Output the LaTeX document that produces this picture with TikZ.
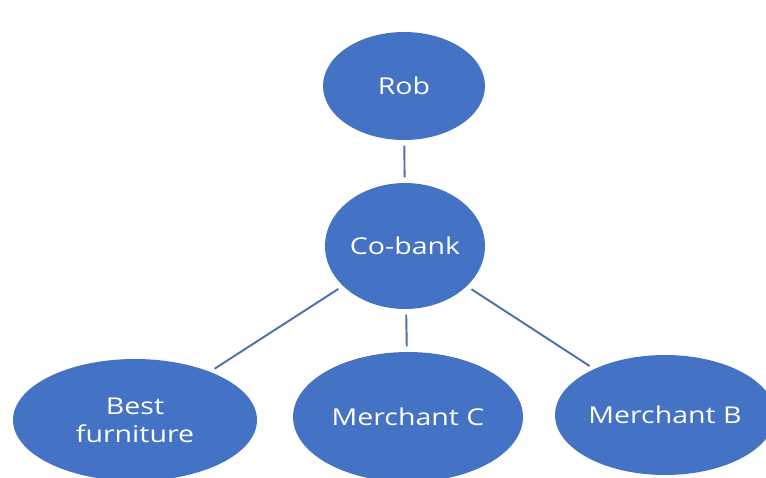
\documentclass[tikz,border=0pt]{standalone}
\usepackage{fontspec}
\usetikzlibrary{shapes.geometric, positioning}
\newfontfamily\bubblefont[FakeStretch=1.23]{Open Sans}
\definecolor{officeblue}{HTML}{4472C4}
\definecolor{linkblue}{HTML}{4F6FAE}

\begin{document}
\begin{tikzpicture}[x=0.02cm, y=-0.02cm,
		bubble/.style={ellipse, fill=officeblue, text=white, inner sep=0pt, align=center, font=\bubblefont\fontsize{13.2}{16}\selectfont},
		link/.style={draw=linkblue, line width=1.1pt, shorten <=3pt, shorten >=3pt}]
			\useasboundingbox (0,0) rectangle (766,477);
			% Top nodes
			\node[bubble, minimum width=3.24cm, minimum height=2.16cm] (rob) at (404, 86) {Rob};
			\node[bubble, minimum width=3.2cm, minimum height=2.52cm] (cobank) at (405, 246) {Co-bank};
			
			% Bottom nodes
			\node[bubble, minimum width=4.88cm, minimum height=2.44cm] (best) at (135, 420) {Best\\furniture};
			\node[bubble, minimum width=4.6cm, minimum height=2.6cm] (merchc) at (408, 417) {Merchant C};
			\node[bubble, minimum width=4.4cm, minimum height=2.4cm] (merchb) at (665, 415) {Merchant B};
			
			% Connections
			\draw[link] (rob) -- (cobank);
			\draw[link] (cobank) -- (best);
			\draw[link] (cobank) -- (merchc);
			\draw[link] (cobank) -- (merchb);
		\end{tikzpicture}
\end{document}
